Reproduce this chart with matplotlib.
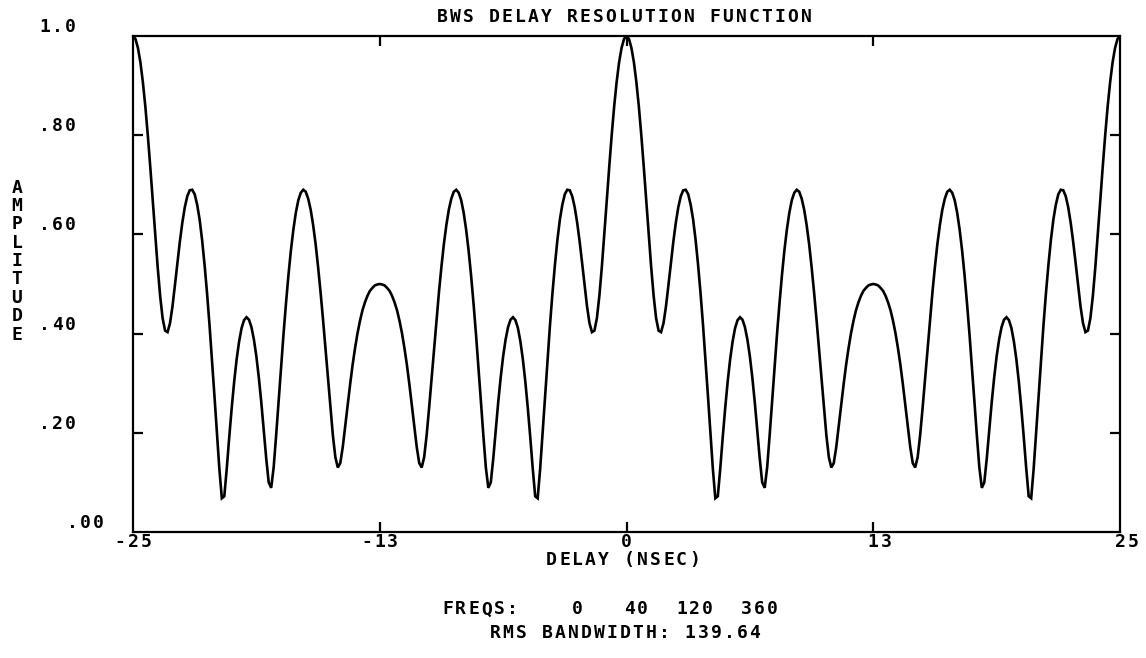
import numpy as np
import matplotlib
matplotlib.use("Agg")
import matplotlib.pyplot as plt

# delay axis, nsec (-25 .. 25, every 0.125)
DELAY_MIN, DELAY_MAX, DELAY_STEP = -25, 25, 0.125

# amplitude at each delay step
AMPLITUDE = [
    # -25 .. -12.5
    1.0, .994, .976, .947, .907, .858, .800, .736, .668, .600,
    .534, .476, .431, .406, .403, .421, .455, .498, .543, .586,
    .624, .655, .677, .689, .690, .681, .660, .630, .589, .539,
    .482, .418, .348, .275, .200, .127, .068, .072, .128, .191,
    .250, .303, .348, .384, .411, .427, .433, .428, .413, .388,
    .354, .311, .261, .205, .148, .100, .089, .130, .194, .263,
    .332, .399, .461, .518, .568, .610, .644, .669, .684, .690,
    .686, .672, .650, .619, .581, .535, .484, .429, .370, .309,
    .250, .195, .151, .130, .139, .171, .213, .256, .298, .337,
    .371, .401, .426, .447, .463, .476, .486, .492, .497, .499,
    .500,
    # -12.375 .. 0
    .499, .497, .492, .486, .476, .463, .447, .426, .401, .371,
    .337, .298, .256, .213, .171, .139, .130, .151, .195, .250,
    .309, .370, .429, .484, .535, .581, .619, .650, .672, .686,
    .690, .684, .669, .644, .610, .568, .518, .461, .399, .332,
    .263, .194, .130, .089, .100, .148, .205, .261, .311, .354,
    .388, .413, .428, .433, .427, .411, .384, .348, .303, .250,
    .191, .128, .072, .068, .127, .200, .275, .348, .418, .482,
    .539, .589, .630, .660, .681, .690, .689, .677, .655, .624,
    .586, .543, .498, .455, .421, .403, .406, .431, .476, .534,
    .600, .668, .736, .800, .858, .907, .947, .976, .994, 1.0,
    # 0.125 .. 12.5
    .994, .976, .947, .907, .858, .800, .736, .668, .600,
    .534, .476, .431, .406, .403, .421, .455, .498, .543, .586,
    .624, .655, .677, .689, .690, .681, .660, .630, .589, .539,
    .482, .418, .348, .275, .200, .127, .068, .072, .128, .191,
    .250, .303, .348, .384, .411, .427, .433, .428, .413, .388,
    .354, .311, .261, .205, .148, .100, .089, .130, .194, .263,
    .332, .399, .461, .518, .568, .610, .644, .669, .684, .690,
    .686, .672, .650, .619, .581, .535, .484, .429, .370, .309,
    .250, .195, .151, .130, .139, .171, .213, .256, .298, .337,
    .371, .401, .426, .447, .463, .476, .486, .492, .497, .499,
    .500,
    # 12.625 .. 25
    .499, .497, .492, .486, .476, .463, .447, .426, .401, .371,
    .337, .298, .256, .213, .171, .139, .130, .151, .195, .250,
    .309, .370, .429, .484, .535, .581, .619, .650, .672, .686,
    .690, .684, .669, .644, .610, .568, .518, .461, .399, .332,
    .263, .194, .130, .089, .100, .148, .205, .261, .311, .354,
    .388, .413, .428, .433, .427, .411, .384, .348, .303, .250,
    .191, .128, .072, .068, .127, .200, .275, .348, .418, .482,
    .539, .589, .630, .660, .681, .690, .689, .677, .655, .624,
    .586, .543, .498, .455, .421, .403, .406, .431, .476, .534,
    .600, .668, .736, .800, .858, .907, .947, .976, .994, 1.0,
]

FREQS = [0, 40, 120, 360]
RMS_BW = "139.64"

X_TICKS = [-25, -12.5, 0, 12.5, 25]
X_TICK_LABELS = ["-25", "-13", "0", "13", "25"]
Y_TICKS = [0.0, 0.2, 0.4, 0.6, 0.8, 1.0]
Y_TICK_LABELS = [".00", ".20", ".40", ".60", ".80", "1.0"]

TITLE = "BWS DELAY RESOLUTION FUNCTION"
XLABEL = "DELAY (NSEC)"
YLABEL = "AMPLITUDE"

W, H = 1146, 658
PITCH = 13
FONT = dict(family="DejaVu Sans Mono", weight="bold", fontsize=13, color="black")

# axes box in pixels
AX_L, AX_R, AX_T, AX_B = 133, 1120, 36, 532


def put(fig, x, y, s, ha="left", pitch=PITCH):
    # plotter style text: fixed pitch, one char at a time (pixel coords, char centres)
    n = len(s)
    if ha == "center":
        x0 = x - (n - 1) * pitch / 2
    elif ha == "right":
        x0 = x - (n - 1) * pitch
    else:
        x0 = x
    for i, c in enumerate(s):
        if c != " ":
            fig.text((x0 + i * pitch) / W, 1 - y / H, c, ha="center", va="center", **FONT)


def to_px(ax, xv, yv):
    px, py = ax.transData.transform((xv, yv))
    return px, H - py


delay = np.arange(DELAY_MIN, DELAY_MAX + DELAY_STEP / 2, DELAY_STEP)

fig = plt.figure(figsize=(W / 100, H / 100), dpi=100)
ax = fig.add_axes([AX_L / W, 1 - AX_B / H, (AX_R - AX_L) / W, (AX_B - AX_T) / H])
ax.plot(delay, AMPLITUDE, color="black", lw=1.9, solid_joinstyle="miter")
ax.set_xlim(DELAY_MIN, DELAY_MAX)
ax.set_ylim(0, 1)
for s in ax.spines.values():
    s.set_linewidth(1.6)
ax.set_xticks(X_TICKS[1:-1])
ax.set_yticks(Y_TICKS[1:-1])
ax.tick_params(direction="in", length=7, width=1.6, top=True, right=True,
               labelbottom=False, labelleft=False)

# tick labels, plotter placement
for xv, lab in zip(X_TICKS, X_TICK_LABELS):
    px, _ = to_px(ax, xv, 0)
    if not lab.startswith("-") and lab != "0":
        px += PITCH / 2
    put(fig, px, 542, lab, ha="center")
for yv, lab in zip(Y_TICKS, Y_TICK_LABELS):
    _, py = to_px(ax, 0, yv)
    xr = 98.5 if yv == 0 else 70.5
    put(fig, xr, py - 9, lab, ha="right")

put(fig, 624, 17, TITLE, ha="center")
put(fig, 623, 560, XLABEL, ha="center")
for i, c in enumerate(YLABEL):
    put(fig, 17, 187.5 + i * 18.4, c)

freq_line = "FREQS:" + "".join("%5d" % v for v in FREQS)
put(fig, 610, 609.5, freq_line, ha="center")
put(fig, 625, 633, "RMS BANDWIDTH: " + RMS_BW, ha="center")

fig.savefig("out.png", dpi=100)
